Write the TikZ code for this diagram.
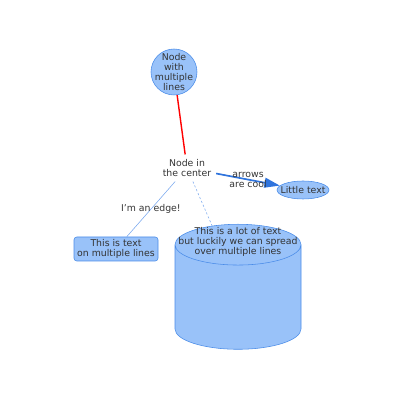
\documentclass[tikz,border=0pt]{standalone}
\usepackage{fontspec}
\setmainfont{DejaVu Sans}
\usetikzlibrary{arrows.meta, positioning, quotes, shapes.geometric}
\definecolor{bubblefill}{HTML}{99C2F9}
\definecolor{bubbleline}{HTML}{4A8CE8}
\definecolor{thinline}{HTML}{7AA8EE}
\definecolor{arrowblue}{HTML}{2F74DD}
\definecolor{textgray}{HTML}{333333}
\begin{document}
\begin{tikzpicture}[
						on grid,
						every node/.append style={font=\fontsize{6.65}{7.1}\selectfont, text=textgray, align=center},
						bubble/.style={draw=bubbleline, fill=bubblefill, circle, minimum size=1.15cm, inner sep=-4pt},
						oval/.style={draw=bubbleline, fill=bubblefill, ellipse, minimum width=1.3cm, minimum height=0.45cm, inner sep=-3pt},
						block/.style={draw=bubbleline, fill=bubblefill, rectangle, rounded corners=2pt, minimum width=2.1cm, minimum height=0.6cm, inner sep=1pt},
						tank/.style={draw=bubbleline, fill=bubblefill, cylinder, shape border rotate=90, aspect=4.35, minimum width=3.15cm, minimum height=3.125cm},
						every edge quotes/.style={font=\fontsize{6.65}{7.1}\selectfont, text=textgray, align=center, anchor=center},
						every edge/.append style={draw, thinline, line width=0.4pt},]
		\useasboundingbox (0,0) rectangle (10,10);
		\node (center) at (4.675,5.8) {Node in\\the center};
		\node (multi) [bubble, above left=2.4cm and 0.325cm of center] {Node\\with\\multiple\\lines};
		\node (little) [oval, below right=0.55cm and 2.9cm of center] {Little text};
		\node (text) [block, below left=2.025cm and 1.775cm of center] {This is text\\on multiple lines};
		\node (db) [tank, below right=1.4cm and 1.275cm of center, anchor=north,
					label={[anchor=north, inner sep=2.5pt]90:This is a lot of text\\but luckily we can spread\\over multiple lines}] {};

		\path 	(multi) 	edge[red, line width=1pt] 	(center)
				(center) 	edge[arrowblue, line width=1.2pt, -{Triangle[length=11pt, width=7pt]}, "arrows\\are cool"] 	(little)
				(center)	edge["I'm an edge!"]	(text)
				(center)	edge[dash pattern=on 1.5pt off 1.5pt]	(db.109);
	\end{tikzpicture}
\end{document}
